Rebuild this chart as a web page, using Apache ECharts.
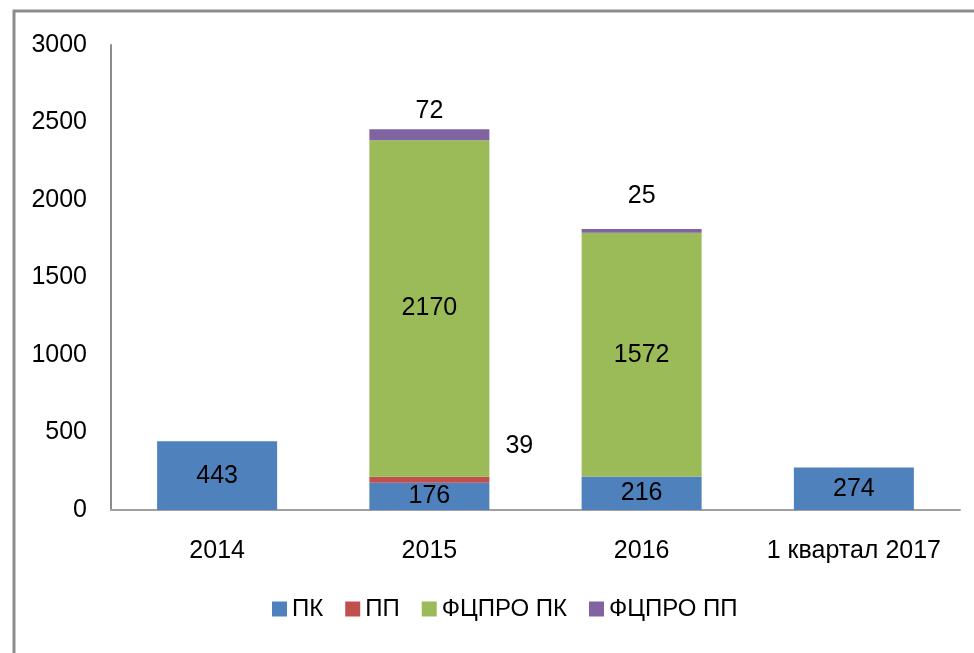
<!DOCTYPE html>
<html>
<head>
<meta charset="utf-8">
<script src="https://cdn.jsdelivr.net/npm/echarts@6/dist/echarts.min.js"></script>
<style>
  html, body { margin: 0; padding: 0; background: #fff; }
  #main { width: 974px; height: 653px; }
</style>
</head>
<body>
<div id="main"></div>
<script>
// категории и значения
var categories = ['2014', '2015', '2016', '1 квартал 2017'];
var seriesNames = ['ПК', 'ПП', 'ФЦПРО ПК', 'ФЦПРО ПП'];
var pkData = [443, 176, 216, 274];
var ppData = [null, 39, null, null];
var fcproPkData = [null, 2170, 1572, null];
var fcproPpData = [null, 72, 25, null];
var yTicks = [0, 500, 1000, 1500, 2000, 2500, 3000];

var colors = ['#4F81BD', '#C0504D', '#9BBB59', '#8064A2'];
var fontFamily = '"Liberation Sans", Arial, sans-serif';
var fontSize = 25;

var chart = echarts.init(document.getElementById('main'));

var insideLabel = {
  show: true,
  position: 'inside',
  color: '#000',
  fontSize: fontSize,
  fontFamily: fontFamily
};

var option = {
  backgroundColor: '#fff',
  color: colors,
  animation: false,
  graphic: [{
    type: 'polyline',
    shape: { points: [[14, 660], [14, 11], [980, 11]] },
    style: { stroke: '#8c8c8c', lineWidth: 3, fill: null }
  }],
  grid: {
    left: 111,
    right: 14,
    top: 45,
    bottom: 143
  },
  legend: {
    data: seriesNames,
    bottom: 27,
    left: 267,
    itemWidth: 15,
    itemHeight: 15,
    itemGap: 22,
    icon: 'rect',
    textStyle: {
      color: '#000',
      fontSize: 24,
      fontFamily: fontFamily
    }
  },
  xAxis: {
    type: 'category',
    data: categories,
    axisLine: { lineStyle: { color: '#a0a0a0', width: 2 } },
    axisTick: { show: false },
    axisLabel: {
      interval: 0,
      color: '#000',
      fontSize: fontSize,
      fontFamily: fontFamily,
      margin: 29
    }
  },
  yAxis: {
    type: 'value',
    min: yTicks[0],
    max: yTicks[yTicks.length - 1],
    interval: 500,
    axisLine: { show: true, lineStyle: { color: '#8c8c8c', width: 2 } },
    axisTick: { show: false },
    splitLine: { show: false },
    axisLabel: {
      color: '#000',
      fontSize: fontSize,
      fontFamily: fontFamily,
      margin: 24,
      formatter: function (v) { return String(v); }
    }
  },
  series: [{
      name: seriesNames[0],
      type: 'bar',
      stack: 'total',
      barWidth: 120,
      data: pkData,
      label: insideLabel
    },
    {
      name: seriesNames[1],
      type: 'bar',
      stack: 'total',
      barWidth: 120,
      data: ppData,
      label: {
        show: true,
        position: 'right',
        distance: 16,
        offset: [0, -34],
        color: '#000',
        fontSize: fontSize,
        fontFamily: fontFamily
      }
    },
    {
      name: seriesNames[2],
      type: 'bar',
      stack: 'total',
      barWidth: 120,
      data: fcproPkData,
      label: insideLabel
    },
    {
      name: seriesNames[3],
      type: 'bar',
      stack: 'total',
      barWidth: 120,
      data: fcproPpData.map(function (v, i) {
        return { value: v, label: { distance: i === 2 ? 20 : 6 } };
      }),
      label: {
        show: true,
        position: 'top',
        color: '#000',
        fontSize: fontSize,
        fontFamily: fontFamily
      }
    }
  ]
};

chart.setOption(option);
</script>
</body>
</html>
